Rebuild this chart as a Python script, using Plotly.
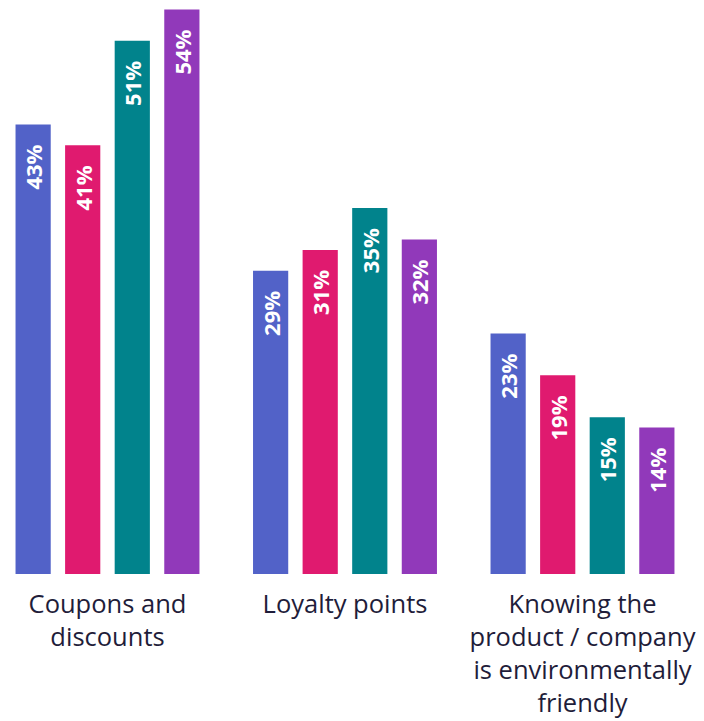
import plotly.graph_objects as go

# Survey categories (tick labels) and the four series shown per category
categories = [
    "Coupons and<br>discounts",
    "Loyalty points",
    "Knowing the<br>product / company<br>is environmentally<br>friendly",
]
series_names = ["Group A", "Group B", "Group C", "Group D"]
series_values = [
    [43, 29, 23],
    [41, 31, 19],
    [51, 35, 15],
    [54, 32, 14],
]
series_colors = ["#5262c8", "#e01a6f", "#01838c", "#9139ba"]

PAD = "\u00a0\u00a0\u00a0"

fig = go.Figure()
for name, vals, col in zip(series_names, series_values, series_colors):
    fig.add_trace(go.Bar(
        x=categories,
        y=vals,
        name=name,
        marker=dict(color=col, line=dict(width=0)),
        text=[f"{v}%{PAD}" for v in vals],
        textposition="inside",
        insidetextanchor="end",
        textangle=-90,
        constraintext="none",
        textfont=dict(family="Open Sans", size=22, color="white", weight="bold"),
        hoverinfo="skip",
    ))

fig.update_layout(
    width=704,
    height=721,
    margin=dict(l=0, r=0, t=0, b=147),
    barmode="group",
    bargap=0.165,
    bargroupgap=0.29,
    showlegend=False,
    plot_bgcolor="white",
    paper_bgcolor="white",
    font=dict(family="Open Sans", color="#1f1d3a"),
)
fig.update_xaxes(
    type="category",
    range=[-0.4526, 2.5116],
    showgrid=False,
    showline=False,
    zeroline=False,
    ticks="",
    ticklabelstandoff=12,
    tickfont=dict(family="Open Sans", size=25.5, color="#1f1d3a"),
)
fig.update_yaxes(
    range=[0, 54.9],
    visible=False,
    showgrid=False,
    zeroline=False,
)

fig.write_html("out.html")
